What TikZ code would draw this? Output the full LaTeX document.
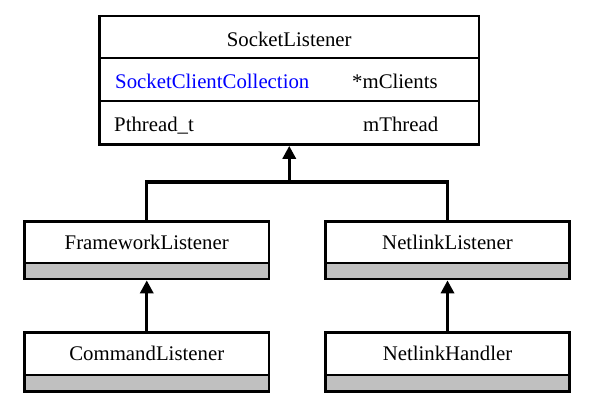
\documentclass[tikz,border=0pt]{standalone}
\usepackage{fontspec}
\setmainfont{Liberation Serif}
\usetikzlibrary{arrows.meta}
\definecolor{umlgray}{HTML}{C0C0C0}
\definecolor{umlblue}{HTML}{0000FF}
\newcommand\umlfont{\fontsize{20.8}{24}\selectfont}
\tikzset{
  box/.style={draw, line width=2.7pt, inner sep=0pt, fill=white},
  namebox/.style={box, minimum width=244.5pt, minimum height=41.5pt, font=\umlfont},
  graybox/.style={box, minimum width=244.5pt, minimum height=16pt, fill=umlgray},
  txt/.style={inner sep=0pt, font=\umlfont},
  conn/.style={line width=3.2pt},
  inh/.style={conn, -{Triangle[length=13pt,width=13pt]}},
}
\begin{document}
\begin{tikzpicture}[x=1pt,y=-1pt]
\fill[white] (0,0) rectangle (594,416);
\useasboundingbox (0,0) rectangle (594,416);
% SocketListener
\node[box, minimum width=379.5pt, minimum height=128.5pt] (sl) at (289.25,80.25) {};
\draw[line width=2.7pt] (sl.west |- 0,58) -- (sl.east |- 0,58);
\draw[line width=2.7pt] (sl.west |- 0,101) -- (sl.east |- 0,101);
\node[txt, anchor=base] (sltitle) at (289.25,46) {SocketListener};
\node[txt, anchor=base west, text=umlblue] (scc) at (115,88.3) {SocketClientCollection};
\node[txt, anchor=base west] (mcl) at (352,88.3) {*mClients};
\node[txt, anchor=base west] (pth) at (114,131.7) {Pthread\_t};
\node[txt, anchor=base west] (mth) at (363,131.7) {mThread};
% FrameworkListener
\node[namebox] (fl) at (146.75,242.25) {FrameworkListener};
\node[graybox] (flg) at (146.75,271) {};
% NetlinkListener
\node[namebox] (nl) at (447.5,242.25) {NetlinkListener};
\node[graybox] (nlg) at (447.5,271) {};
% CommandListener
\node[namebox, minimum height=42.5pt] (cl) at (146.75,353.75) {CommandListener};
\node[graybox, minimum height=16.5pt] (clg) at (146.75,383.25) {};
% NetlinkHandler
\node[namebox, minimum height=42.5pt] (nh) at (447.5,353.75) {NetlinkHandler};
\node[graybox, minimum height=16.5pt] (nhg) at (447.5,383.25) {};
% connectors
\coordinate (j) at (sl.south |- 0,182);
\draw[conn] (fl.north) |- (j) -| (nl.north);
\draw[inh] (j) -- (sl.south);
\draw[inh] (cl.north) -- (flg.south);
\draw[inh] (nh.north) -- (nlg.south);
\end{tikzpicture}
\end{document}
